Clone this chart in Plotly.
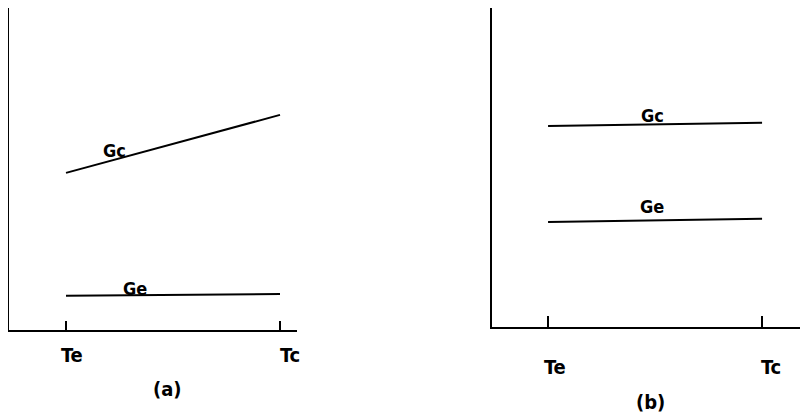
import plotly.graph_objects as go

# The page body has an 8px margin, so the figure is 800x405 and all
# layout pixel positions below are measured from the figure's top-left.
W, H = 800, 405

# Data (abstract units)
tick_labels = ["Te", "Tc"]
x_vals = [1, 2]
gc_a = [0.488, 0.668]
ge_a = [0.106, 0.112]
gc_b = [0.630, 0.640]
ge_b = [0.329, 0.339]
series_names = ["Gc", "Ge"]
panel_labels = ["(a)", "(b)"]


def px_x(p):
    return p / W


def px_y(p):
    return 1 - p / H


FONT = "Liberation Sans Narrow, DejaVu Sans Condensed, sans-serif"
fig = go.Figure()

for xa, ya, gc, ge in [("x", "y", gc_a, ge_a), ("x2", "y2", gc_b, ge_b)]:
    for vals in (gc, ge):
        fig.add_trace(go.Scatter(x=x_vals, y=vals, mode="lines",
                                 line=dict(color="black", width=2),
                                 xaxis=xa, yaxis=ya, showlegend=False,
                                 hoverinfo="skip"))

axis_common = dict(showgrid=False, zeroline=False, showline=True,
                   linecolor="black", linewidth=2)

fig.update_layout(
    width=W, height=H,
    margin=dict(l=0, r=0, t=0, b=0),
    paper_bgcolor="white", plot_bgcolor="white",
    showlegend=False,
    xaxis=dict(domain=[px_x(1), px_x(289)], range=[0.7336, 2.0794],
               tickvals=x_vals, ticktext=["", ""], ticks="inside",
               ticklen=9, tickwidth=2, tickcolor="black", anchor="y",
               **axis_common),
    yaxis=dict(domain=[px_y(322), px_y(0)], range=[0, 1], showticklabels=False,
               ticks="", anchor="x", **axis_common),
    xaxis2=dict(domain=[px_x(484), px_x(799)], range=[0.738, 2.210],
                tickvals=x_vals, ticktext=["", ""], ticks="inside",
                ticklen=11, tickwidth=2, tickcolor="black", anchor="y2",
                **axis_common),
    yaxis2=dict(domain=[px_y(319), px_y(0)], range=[0, 1], showticklabels=False,
                ticks="", anchor="x2", **axis_common),
)

ann = []
# tick labels (pixel centres)
tick_pos = [[(64, 347), (282, 347)], [(547, 359), (763, 359)]]
for row in tick_pos:
    for (xp, yp), t in zip(row, tick_labels):
        ann.append(dict(x=px_x(xp), xref="paper", y=px_y(yp), yref="paper",
                        text=t, showarrow=False,
                        font=dict(family=FONT, size=20, color="black", weight="bold"),
                        xanchor="center", yanchor="middle"))
# panel labels
for (xp, yp), t in zip([(159, 381), (642, 394)], panel_labels):
    ann.append(dict(x=px_x(xp), xref="paper", y=px_y(yp), yref="paper", text=t,
                    showarrow=False,
                    font=dict(family=FONT, size=20, color="black", weight="bold"),
                    xanchor="center", yanchor="middle"))
# series labels
series_pos = [[(106, 142), (127, 280)], [(644, 108), (644, 198)]]
for row in series_pos:
    for (xp, yp), t in zip(row, series_names):
        ann.append(dict(x=px_x(xp), xref="paper", y=px_y(yp), yref="paper",
                        text=t, showarrow=False,
                        font=dict(family=FONT, size=18, color="black", weight="bold"),
                        xanchor="center", yanchor="middle"))

fig.update_layout(annotations=ann)
fig.write_html("out.html")
